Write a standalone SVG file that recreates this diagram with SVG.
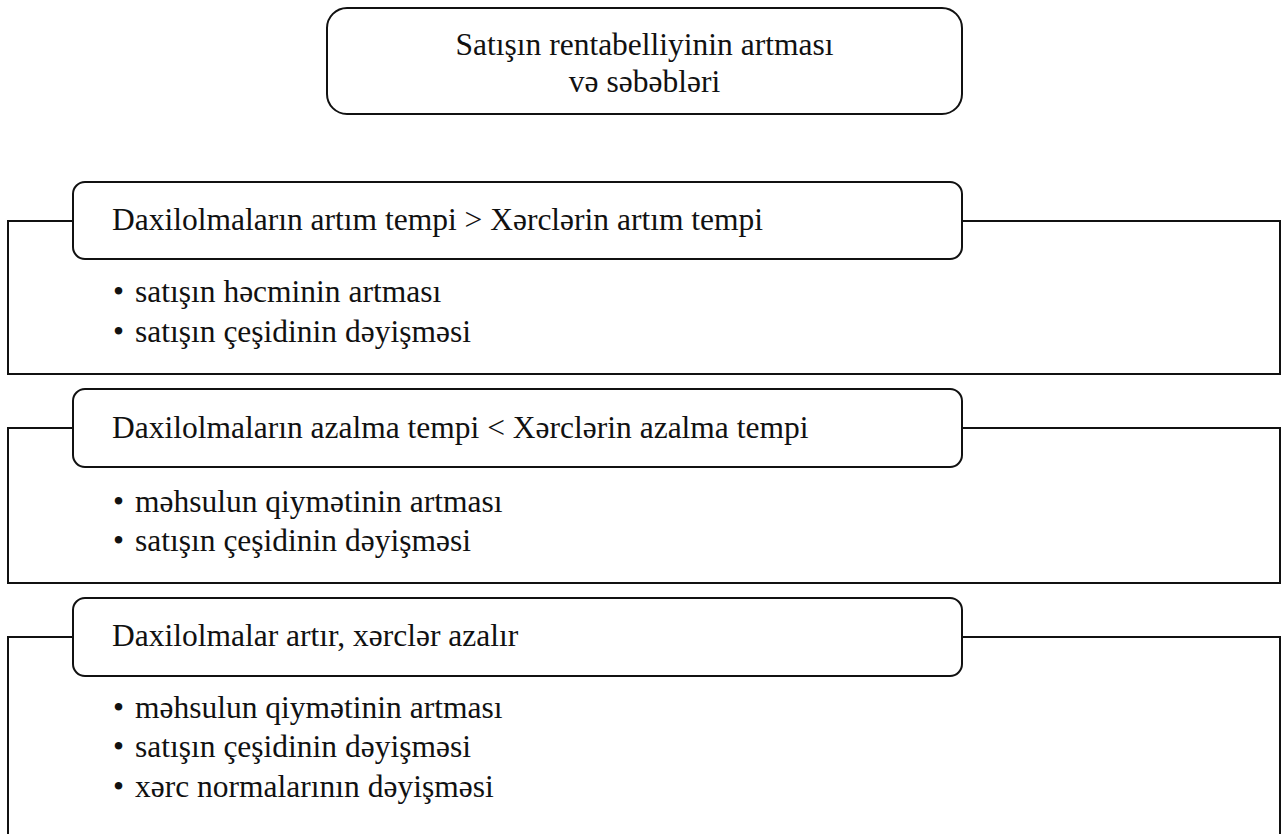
<svg xmlns="http://www.w3.org/2000/svg" width="1286" height="834" viewBox="0 0 1286 834">
<style>
.box{fill:#fff;stroke:#111;stroke-width:2}
.line{fill:none;stroke:#111;stroke-width:2}
text{font-family:"Liberation Serif","DejaVu Serif","Times New Roman",serif;fill:#111;font-size:31.5px}
.t{text-anchor:middle}
</style>
<rect width="1286" height="834" fill="#fff"/>
<g id="connectors">
<path class="line" d="M73 221 H8 V374 H1280 V221 H962"/>
<path class="line" d="M73 428 H8 V583 H1280 V428 H962"/>
<path class="line" d="M73 637 H8 V850 M1280 850 V637 H962"/>
</g>
<g id="title">
<rect class="box" x="327" y="8" width="635" height="106" rx="20"/>
<text class="t" x="644.5" y="55">Satışın rentabelliyinin artması</text>
<text class="t" x="644.5" y="92">və səbəbləri</text>
</g>
<g id="section1">
<rect class="box" x="73" y="182" width="889" height="77" rx="12"/>
<text x="112" y="230">Daxilolmaların artım tempi &gt; Xərclərin artım tempi</text>
<text y="302"><tspan x="113">•</tspan><tspan x="135">satışın həcminin artması</tspan></text>
<text y="342"><tspan x="113">•</tspan><tspan x="135">satışın çeşidinin dəyişməsi</tspan></text>
</g>
<g id="section2">
<rect class="box" x="73" y="389" width="889" height="78" rx="12"/>
<text x="112" y="438">Daxilolmaların azalma tempi &lt; Xərclərin azalma tempi</text>
<text y="512"><tspan x="113">•</tspan><tspan x="135">məhsulun qiymətinin artması</tspan></text>
<text y="551"><tspan x="113">•</tspan><tspan x="135">satışın çeşidinin dəyişməsi</tspan></text>
</g>
<g id="section3">
<rect class="box" x="73" y="598" width="889" height="78" rx="12"/>
<text x="112" y="646">Daxilolmalar artır, xərclər azalır</text>
<text y="718"><tspan x="113">•</tspan><tspan x="135">məhsulun qiymətinin artması</tspan></text>
<text y="757"><tspan x="113">•</tspan><tspan x="135">satışın çeşidinin dəyişməsi</tspan></text>
<text y="797"><tspan x="113">•</tspan><tspan x="135">xərc normalarının dəyişməsi</tspan></text>
</g>
</svg>
